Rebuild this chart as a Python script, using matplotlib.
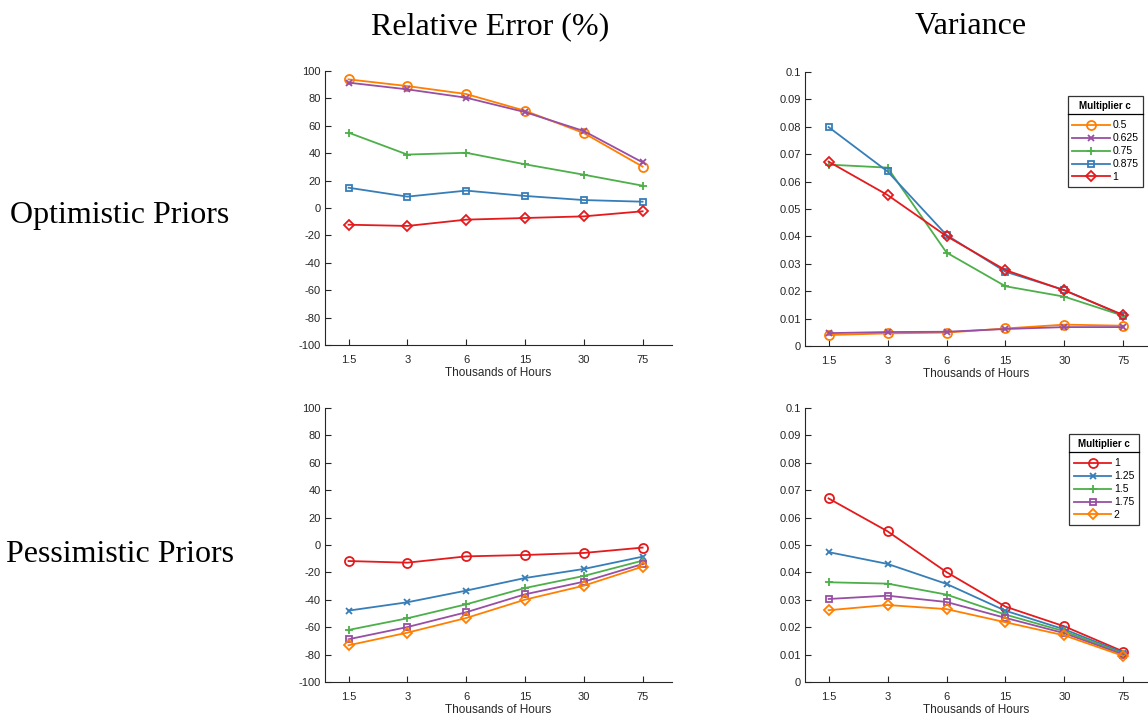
import matplotlib
matplotlib.use('Agg')
import matplotlib.pyplot as plt
from matplotlib.lines import Line2D
import numpy as np

# ---- data ----
hours = ['1.5', '3', '6', '15', '30', '75']

opt_mult = ['0.5', '0.625', '0.75', '0.875', '1']
opt_err = [
    [93.9, 89.0, 83.2, 71.0, 54.7, 30.2],
    [91.5, 86.6, 80.5, 70.0, 56.2, 33.3],
    [55.0, 39.0, 40.3, 31.9, 24.3, 16.3],
    [14.8, 8.3, 12.7, 8.8, 5.8, 4.6],
    [-12.2, -13.1, -8.5, -7.3, -6.1, -2.4],
]
opt_var = [
    [0.0040, 0.0046, 0.0049, 0.0064, 0.0078, 0.0074],
    [0.0047, 0.0051, 0.0052, 0.0062, 0.0069, 0.0069],
    [0.0662, 0.0651, 0.0341, 0.0218, 0.0180, 0.0110],
    [0.0799, 0.0637, 0.0405, 0.0271, 0.0204, 0.0111],
    [0.0673, 0.0551, 0.0401, 0.0277, 0.0203, 0.0113],
]

pes_mult = ['1', '1.25', '1.5', '1.75', '2']
pes_err = [
    [-11.7, -12.9, -8.3, -7.3, -5.8, -1.9],
    [-47.9, -41.8, -33.3, -24.1, -17.5, -8.5],
    [-62.0, -53.5, -43.3, -31.4, -22.6, -11.4],
    [-68.8, -59.9, -49.1, -36.0, -26.8, -13.9],
    [-73.2, -64.0, -53.3, -39.9, -29.7, -15.8],
]
pes_var = [
    [0.0670, 0.0550, 0.0401, 0.0275, 0.0203, 0.0111],
    [0.0474, 0.0431, 0.0358, 0.0260, 0.0192, 0.0107],
    [0.0364, 0.0359, 0.0319, 0.0246, 0.0185, 0.0103],
    [0.0303, 0.0315, 0.0292, 0.0234, 0.0178, 0.0100],
    [0.0262, 0.0281, 0.0266, 0.0218, 0.0170, 0.0095],
]

RED = '#e41a1c'
BLUE = '#377eb8'
GREEN = '#4daf4a'
PURPLE = '#984ea3'
ORANGE = '#ff7f00'

opt_style = [(ORANGE, 'o'), (PURPLE, 'x'), (GREEN, '+'), (BLUE, 's'), (RED, 'D')]
pes_style = [(RED, 'o'), (BLUE, 'x'), (GREEN, '+'), (PURPLE, 's'), (ORANGE, 'D')]
MSIZE = {'o': 6.5, 'x': 4.5, '+': 6, 's': 5, 'D': 5}

GRAY = '#262626'
plt.rcParams['font.family'] = ['Liberation Sans', 'DejaVu Sans']
plt.rcParams['axes.unicode_minus'] = False

fig = plt.figure(figsize=(11.48, 7.17), dpi=100)

W, H = 1148.0, 717.0
def box(l, t, r, b):
    return [l / W, 1 - b / H, (r - l) / W, (b - t) / H]

ax_tl = fig.add_axes(box(325, 71, 672, 345))
ax_tr = fig.add_axes(box(805, 72, 1147, 346))
ax_bl = fig.add_axes(box(325, 408, 672, 682))
ax_br = fig.add_axes(box(805, 408, 1147, 682))

x = np.arange(1, len(hours) + 1)


def draw(ax, data, styles, labels):
    for vals, (c, m), lab in zip(data, styles, labels):
        ax.plot(x, vals, color=c, marker=m, markersize=MSIZE[m],
                markerfacecolor='none', markeredgewidth=1.3, lw=1.3, label=lab)
    for s in ['top', 'right']:
        ax.spines[s].set_visible(False)
    for s in ['left', 'bottom']:
        ax.spines[s].set_color(GRAY)
        ax.spines[s].set_linewidth(0.8)
    ax.set_xticks(x)
    ax.set_xticklabels(hours)
    ax.tick_params(direction='in', length=4, width=0.8, colors=GRAY, labelsize=8)
    ax.tick_params(axis='x', pad=7)
    ax.tick_params(axis='y', pad=3)
    ax.set_xlabel('Thousands of Hours', fontsize=8.5, color=GRAY, labelpad=1.5)


def err_axes(ax):
    ax.set_ylim(-100, 100)
    ax.set_yticks(np.arange(-100, 101, 20))
    ax.set_xlim(0.6, 6.5)


def var_axes(ax):
    ax.set_ylim(0, 0.1)
    ax.set_yticks(np.arange(0, 0.101, 0.01))
    ax.set_yticklabels(['0'] + ['%g' % v for v in np.round(np.arange(0.01, 0.101, 0.01), 2)])
    ax.set_xlim(0.6, 6.4)


draw(ax_tl, opt_err, opt_style, opt_mult)
err_axes(ax_tl)
draw(ax_tr, opt_var, opt_style, opt_mult)
var_axes(ax_tr)
draw(ax_bl, pes_err, pes_style, pes_mult)
err_axes(ax_bl)
draw(ax_br, pes_var, pes_style, pes_mult)
var_axes(ax_br)

legs = []
for ax, anchor in [(ax_tr, box(1077, 96, 1143, 182)), (ax_br, box(1079, 434, 1139, 519))]:
    leg = ax.legend(title='Multiplier c', loc='upper right',
                    bbox_to_anchor=(anchor[0] + anchor[2], anchor[1] + anchor[3]),
                    bbox_transform=fig.transFigure,
                    fontsize=7.5, title_fontproperties={'weight': 'bold', 'size': 7},
                    frameon=True, fancybox=False, edgecolor='black',
                    handlelength=3.6, handletextpad=0.25, labelspacing=0.28,
                    borderpad=0.45, borderaxespad=0)
    leg.get_frame().set_linewidth(0.9)
    leg._legend_box.sep = 7  # more room between title and entries
    legs.append(leg)

# serif titles
serif = ['Liberation Serif', 'DejaVu Serif']
fig.text(490 / W, 1 - 27 / H, 'Relative Error (%)', ha='center', va='center',
         fontsize=23, family=serif)
fig.text(971 / W, 1 - 27 / H, 'Variance', ha='center', va='center',
         fontsize=23, family=serif)
fig.text(120 / W, 1 - 215 / H, 'Optimistic Priors', ha='center', va='center',
         fontsize=23, family=serif)
fig.text(120 / W, 1 - 555 / H, 'Pessimistic Priors', ha='center', va='center',
         fontsize=23, family=serif)

# separator line under legend titles
fig.canvas.draw()
r = fig.canvas.get_renderer()
for leg in legs:
    fb = leg.get_frame().get_window_extent(r)
    tb = leg.get_title().get_window_extent(r)
    yline = tb.y0 - 3
    fig.add_artist(Line2D([fb.x0 / W, fb.x1 / W], [yline / H, yline / H],
                          color='black', lw=0.9, transform=fig.transFigure))

fig.savefig('out.png', dpi=100)
